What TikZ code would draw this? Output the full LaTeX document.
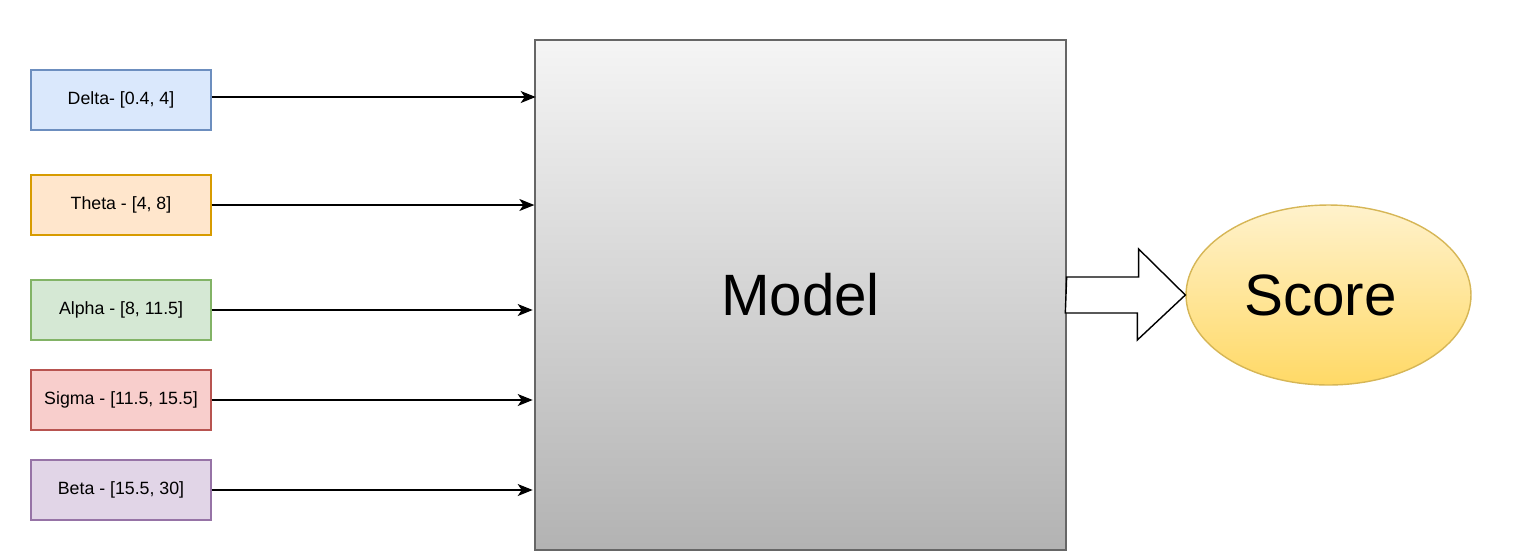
\documentclass[tikz,border=0pt]{standalone}
\usepackage{fontspec}
\setmainfont{Liberation Sans}
\usepackage{xcolor}
\usetikzlibrary{arrows.meta,shapes.geometric}

\definecolor{deltafill}{HTML}{DAE8FC}\definecolor{deltaline}{HTML}{6C8EBF}
\definecolor{thetafill}{HTML}{FFE6CC}\definecolor{thetaline}{HTML}{D79B00}
\definecolor{alphafill}{HTML}{D5E8D4}\definecolor{alphaline}{HTML}{82B366}
\definecolor{sigmafill}{HTML}{F8CECC}\definecolor{sigmaline}{HTML}{B85450}
\definecolor{betafill}{HTML}{E1D5E7}\definecolor{betaline}{HTML}{9673A6}

\tikzset{
  band/.style={draw, line width=0.8pt, minimum width=3.6cm, minimum height=1.2cm,
    font=\fontsize{10.1}{12}\selectfont},
  feed/.style={-{Stealth[length=0.3cm, width=0.24cm, inset=0.08cm]}, line width=0.7pt},
}

\begin{document}
\begin{tikzpicture}[x=0.02cm, y=-0.02cm]
\useasboundingbox (0,0) rectangle (1531,559);

\node[band, fill=deltafill, draw=deltaline] (delta) at (121,100) {Delta- [0.4, 4]};
\node[band, fill=thetafill, draw=thetaline] (theta) at (121,205) {Theta - [4, 8]};
\node[band, fill=alphafill, draw=alphaline] (alpha) at (121,310) {Alpha - [8, 11.5]};
\node[band, fill=sigmafill, draw=sigmaline] (sigma) at (121,400) {Sigma - [11.5, 15.5]};
\node[band, fill=betafill, draw=betaline] (beta) at (121,490) {Beta - [15.5, 30]};

\node[draw=black!60, line width=0.8pt, top color=black!4, bottom color=black!30,
  minimum width=10.62cm, minimum height=10.2cm,
  font=\fontsize{33.2}{36}\selectfont] (model) at (800.5,295) {Model};

\node[ellipse, draw={rgb,255:red,214;green,182;blue,86}, line width=0.8pt,
  top color={rgb,255:red,255;green,242;blue,204}, bottom color={rgb,255:red,255;green,217;blue,102},
  minimum width=5.7cm, minimum height=3.6cm, inner sep=0pt,
  font=\fontsize{33.2}{36}\selectfont] (score) at (1328.5,295) {Score\kern0.32cm};

\draw[feed] (delta.east) ++(0,-3) -- ++(324,0);
\draw[feed] (theta.east) -- (theta.east -| model.west);
\draw[feed] (alpha.east) -- ++(321,0);
\draw[feed] (sigma.east) -- ++(321,0);
\draw[feed] (beta.east) -- ++(321,0);

\draw[line width=0.8pt, fill=white] (model.east) ++(0,-18) -- ++(72,0) -- ++(0,-28)
  -- (score.west) -- ++(-48,45) -- ++(0,-27) -- ++(-72,0) -- cycle;

\end{tikzpicture}
\end{document}
